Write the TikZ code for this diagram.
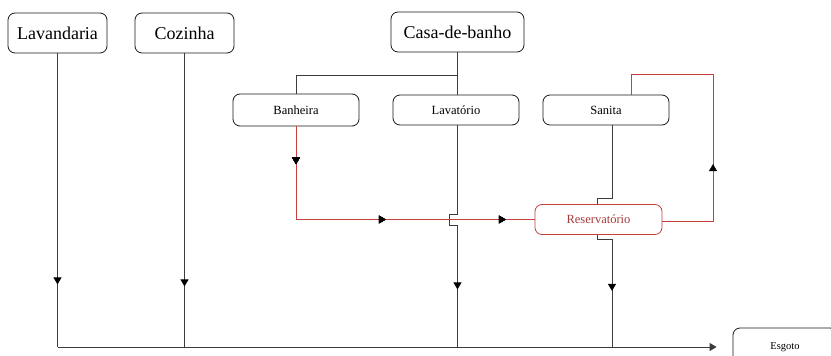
\documentclass[tikz,border=0pt]{standalone}
\usepackage{fontspec}
\setmainfont{Liberation Serif}
\usetikzlibrary{arrows.meta,decorations.markings,calc}
\definecolor{pipered}{RGB}{195,65,62}
\definecolor{txtred}{RGB}{165,60,58}
\definecolor{pipegray}{RGB}{60,60,60}
\tikzset{
  box/.style={draw=black!90,line width=0.8pt,rounded corners=7pt,align=center,inner sep=0pt},
  bigbox/.style={box,minimum width=99pt,minimum height=40pt,font=\fontsize{18}{20}\selectfont},
  subbox/.style={box,minimum width=126pt,minimum height=30pt,font=\fontsize{12.5}{14}\selectfont},
  pipe/.style={draw=pipegray,line width=0.9pt},
  redpipe/.style={draw=pipered,line width=1pt},
  tipmark/.style={postaction={decorate},decoration={markings,mark=at position #1 with {\arrow[black,fill=black]{Triangle[length=7pt,width=8pt]}}}},
}
\begin{document}
\begin{tikzpicture}[x=1pt,y=-1pt]
\clip (0,0) rectangle (831,356);
\fill[white] (0,0) rectangle (831,356);
% nodes
\node[bigbox] (lav) at (57.5,33) {Lavandaria};
\node[bigbox] (coz) at (184.5,33) {Cozinha};
\node[bigbox,minimum width=133pt] (casa) at (457.5,32) {Casa-de-banho};
\node[subbox,minimum height=32pt] (banh) at (296,110) {Banheira};
\node[subbox] (lavat) at (456,110) {Lavatório};
\node[subbox] (san) at (606,110) {Sanita};
\node[subbox,draw=pipered,minimum width=127pt,text=txtred] (res) at (598.5,219.5) {Reservatório};
\node[box,minimum width=104pt,minimum height=38pt,font=\fontsize{10.5}{12}\selectfont] (esg) at (785,347) {Esgoto};
% coordinates
\coordinate (bl) at (57.5,347);
\coordinate (jc) at (457.5,75);
\coordinate (lx) at (457.5,0);
\coordinate (sx) at (612,0);
\coordinate (rx) at (597,0);
\coordinate (loopx) at (713,0);
\coordinate (loopy) at (0,74);
\coordinate (topx) at (631,0);
% casa-de-banho distribution
\draw[pipe] (casa.south) -- (jc);
\draw[pipe] (jc) -| (banh.north);
\draw[pipe] (jc) -- (lavat.north -| lx);
% lavandaria, cozinha
\draw[pipe,tipmark=231pt] (lav.south) -- (bl);
\draw[pipe,tipmark=233pt] (coz.south) -- (coz.south |- bl);
% lavatorio with hop
\draw[pipe,tipmark=180pt] (lavat.south -| lx) -- ++(0,89) -- ++(-8,0) -- ++(0,11) -- ++(8,0) -- (lx |- bl);
% sanita to reservatorio
\draw[pipe] (san.south -| sx) -- ++(0,73) -- ++(-15,0) -- (res.north -| rx);
\draw[pipe,tipmark=71pt] (res.south -| rx) -- ++(0,5) -- ++(15,0) -- (sx |- bl);
% bottom collector
\draw[pipe,-{Triangle[length=7pt,width=8pt]}] (bl) -- ($(esg.west)+(-16,0)$);
% red: banheira to reservatorio
\draw[redpipe] (banh.south) |- (res.west);
\path[tipmark=38pt,tipmark=183pt,tipmark=303pt] (banh.south) |- (res.west);
% red loop: reservatorio to sanita
\draw[redpipe] ($(res.east)+(0,2)$) -- ($(loopx |- res.east)+(0,2)$) -- (loopx |- loopy) -- (topx |- loopy) -- (san.north -| topx);
\path[tipmark=108pt] ($(res.east)+(0,2)$) -- ($(loopx |- res.east)+(0,2)$) -- (loopx |- loopy);
\end{tikzpicture}
\end{document}
